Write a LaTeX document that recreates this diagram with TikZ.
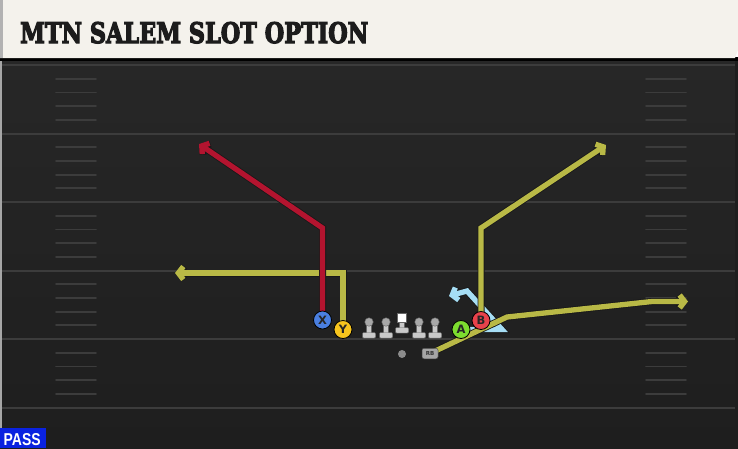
\documentclass[tikz,border=0pt]{standalone}
\usepackage{fontspec}
\setmainfont{DejaVu Sans}
\newfontfamily\titlefont{DejaVu Serif}[FakeBold=4.5]
\newfontfamily\passfont{Liberation Sans}
\usetikzlibrary{arrows.meta}
\pgfdeclarelayer{field}
\pgfdeclarelayer{routes}
\pgfsetlayers{field,routes,main}
\definecolor{fieldtop}{HTML}{272727}
\definecolor{fieldbot}{HTML}{1E1E1E}
\definecolor{yardc}{HTML}{3C3C3C}
\definecolor{headbg}{HTML}{F4F2EC}
\definecolor{titlec}{HTML}{1C1C1C}
\definecolor{passblue}{HTML}{0A22E0}
\definecolor{xblue}{HTML}{4A7FE0}
\definecolor{yyellow}{HTML}{F7C51E}
\definecolor{agreen}{HTML}{7DDC2F}
\definecolor{bred}{HTML}{E8424B}
\definecolor{routered}{HTML}{B3142F}
\definecolor{routeyel}{HTML}{B9B946}
\definecolor{routeblue}{HTML}{A6DEF5}
\definecolor{linegray}{HTML}{C9C9C9}
\definecolor{headgray}{HTML}{A8A8A8}
\tikzset{
  yardline/.style={draw=yardc, line width=2pt},
  hashmark/.style={draw=yardc, line width=1.8pt, line cap=round},
  player/.style={circle, draw=black, line width=0.8pt, minimum size=18pt, inner sep=0pt,
    font=\bfseries\fontsize{11.5}{11.5}\selectfont, text=black!85},
  rtout/.style={draw=black!90, line width=7pt, -{Straight Barb[length=5pt,width=13pt]}},
  rtin/.style={line width=5.3pt, -{Straight Barb[length=5pt,width=13pt]}},
  olhead/.style={circle, fill=headgray, draw=black!60, line width=0.4pt, inner sep=0pt, minimum size=8.5pt},
  olbody/.style={fill=linegray, draw=black!60, line width=0.4pt},
}
\newcommand\playroute[2]{\draw[rtout] #2; \draw[rtin, draw=#1] #2;}
\newcommand\lineman[2]{%
  \fill[olbody] (#1-2.5,322) rectangle (#1+2.5,334);
  \fill[olbody, rounded corners=1pt] (#1-6.5,332.5) rectangle (#1+6.5,338);
  \node[olhead] (#2) at (#1,322) {};}
\begin{document}
\begin{tikzpicture}[x=1pt,y=-1pt]
\useasboundingbox (0,0) rectangle (738,448);
\begin{pgfonlayer}{field}
  \shade[top color=fieldtop, bottom color=fieldbot] (0,58) rectangle (738,448);
  \fill[black!35] (0,58) rectangle (2,448);
  \fill[black!22!fieldtop] (735,58) rectangle (738,448);
  \fill[black] (0,57) rectangle (738,61);
  \foreach \yy in {65,133.5,202,270.5,339,407.5}
    \draw[yardline] (2,\yy) -- (735,\yy);
  \foreach \k in {1,2,3,4,6,7,8,9,11,12,13,14,16,17,18,19,21,22,23,24} {
    \draw[hashmark] (56,{65+13.7*\k}) -- (96,{65+13.7*\k});
    \draw[hashmark] (646,{65+13.7*\k}) -- (686,{65+13.7*\k});
  }
  \fill[headbg] (0,0) -- (738,0) -- (738,50) -- (735,58) -- (0,58) -- cycle;
  \fill[black!30] (0,0) rectangle (3,58);
\end{pgfonlayer}
% title
\node[anchor=base west, inner sep=0pt, text=titlec] (title) at (20,43)
  {\resizebox{348pt}{21pt}{\titlefont\bfseries MTN SALEM SLOT OPTION}};
% pass tag
\fill[passblue] (0,428) rectangle (46,448);
\node[anchor=base west, inner sep=0pt, text=white] (pass) at (3.5,445)
  {\resizebox{37pt}{12pt}{\passfont\bfseries PASS}};
% linemen
\lineman{369}{LT}
\lineman{386}{LG}
\lineman{419}{RG}
\lineman{435}{RT}
\fill[olbody] (399.5,322) rectangle (404.5,329);
\fill[olbody, rounded corners=1pt] (395.5,327.5) rectangle (408.5,333);
\node[fill=white, draw=black!60, line width=0.4pt, minimum size=9pt, inner sep=0pt] (C) at (402,318) {};
% backs
\node[circle, fill=black!45, inner sep=0pt, minimum size=8pt] (QB) at (402,354) {};
\node[fill=black!35!white, draw=black!70, line width=0.5pt, rounded corners=2pt,
  minimum width=16pt, minimum height=10.5pt, inner sep=0pt,
  font=\bfseries\fontsize{5.5}{5.5}\selectfont, text=black!80] (RB) at (430,353.5) {RB};
% skill players
\node[player, fill=xblue] (X) at (322.5,320) {X};
\node[player, fill=yyellow] (Y) at (343,329.5) {Y};
\node[player, fill=agreen] (A) at (461,329.5) {A};
\node[player, fill=bred] (B) at (481,320.5) {B};
% routes
\begin{pgfonlayer}{routes}
  \playroute{routeblue}{(A.center) -- (502,329.5) -- (467,291) -- (449,296)}
  \playroute{routeyel}{(Y.center) -- (343,273) -- (175,273)}
  \playroute{routered}{(X.center) -- (322.5,228) -- (199,144)}
  \playroute{routeyel}{(B.center) -- (481,228) -- (606,145)}
  \playroute{routeyel}{(RB.center) -- (507,317) -- (652,301.5) -- (688,301.5)}
\end{pgfonlayer}
\end{tikzpicture}
\end{document}
